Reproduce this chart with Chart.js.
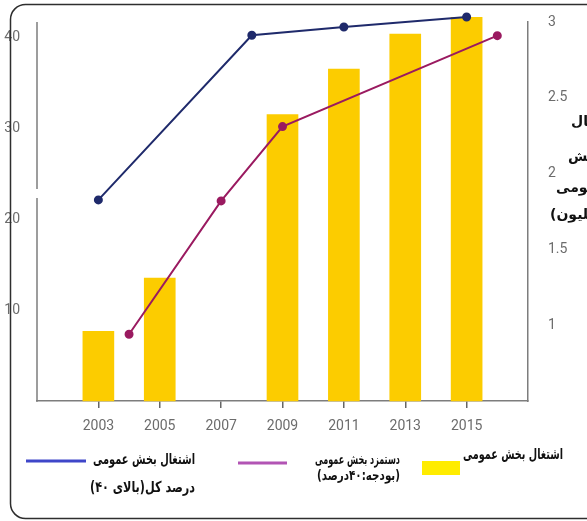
<!DOCTYPE html>
<html lang="fa">
<head>
<meta charset="UTF-8">
<title>اشتغال بخش عمومی</title>
<script src="https://cdn.jsdelivr.net/npm/chart.js@4.4.0/dist/chart.umd.min.js"></script>
<style>
 html, body { margin: 0; padding: 0; background: #fff; }
 .wrap { position: relative; width: 587px; height: 521px; }
</style>
</head>
<body>
<div class="wrap"><canvas id="chart" width="587" height="521"></canvas></div>
<script>
// bars: public sector employment (millions, right axis)
const barYears = [2003, 2005, 2009, 2011, 2013, 2015]
const barValues = [0.96, 1.31, 2.39, 2.69, 2.92, 3.03]
// blue line: share of total employment (percent, left axis)
const shareYears = [2003, 2008, 2011, 2015]
const shareValues = [22.1, 40.2, 41.1, 42.2]
// purple line: public sector wages (right axis)
const wageYears = [2004, 2007, 2009, 2016]
const wageValues = [0.94, 1.82, 2.31, 2.91]

const xTicks = [2003, 2005, 2007, 2009, 2011, 2013, 2015]
const leftTicks = [10, 20, 30, 40]
const rightTicks = [1, 1.5, 2, 2.5, 3]

const legendShare = ['اشتغال بخش عمومی', 'درصد کل(بالای ۴۰)']
const legendWage = ['دستمزد بخش عمومی', '(بودجه:۴۰درصد)']
const legendBars = ['اشتغال بخش عمومی']
const rightTitle = ['اشتغال', 'بخش', 'عمومی', '(میلیون)']

const tickFont = { family: 'Roboto', size: 14 }
const tickColor = '#6c6c6c'
const axisColor = '#7d7d7d'

const toPoints = (xs, ys) => xs.map((x, i) => ({ x: x, y: ys[i] }))

// frame, broken left axis, legend and right title
const decor = {
 id: 'decor',
 afterDraw(chart) {
  const ctx = chart.ctx
  const area = chart.chartArea
  ctx.save()

  // rounded frame
  ctx.strokeStyle = '#2e2e2e'
  ctx.lineWidth = 1.5
  ctx.beginPath()
  ctx.roundRect(10.5, 4.5, 620, 514, 15)
  ctx.stroke()

  // left axis with a break
  ctx.strokeStyle = axisColor
  ctx.lineWidth = 1.5
  ctx.beginPath()
  ctx.moveTo(area.left, area.top)
  ctx.lineTo(area.left, 189)
  ctx.moveTo(area.left, 198)
  ctx.lineTo(area.left, area.bottom + 0.75)
  ctx.stroke()

  // legend
  ctx.lineWidth = 3
  ctx.strokeStyle = '#3f46c9'
  ctx.beginPath(); ctx.moveTo(26, 461); ctx.lineTo(86, 461); ctx.stroke()
  ctx.strokeStyle = '#b254b4'
  ctx.beginPath(); ctx.moveTo(238, 463); ctx.lineTo(287, 463); ctx.stroke()
  ctx.fillStyle = '#ffec00'
  ctx.fillRect(422, 461, 38, 14)

  ctx.fillStyle = '#111'
  ctx.direction = 'rtl'
  ctx.textBaseline = 'middle'
  ctx.textAlign = 'right'
  ctx.font = 'bold 15px "DejaVu Sans"'
  ctx.fillText(legendShare[0], 195, 460, 102)
  ctx.fillText(legendShare[1], 195, 488, 105)
  ctx.font = 'bold 14px "DejaVu Sans"'
  ctx.fillText(legendWage[0], 400, 460, 85)
  ctx.fillText(legendWage[1], 400, 476, 83)
  ctx.font = 'bold 15px "DejaVu Sans"'
  ctx.fillText(legendBars[0], 563, 455, 100)

  // right axis title, cut by the page edge
  ctx.font = 'bold 14px "DejaVu Sans"'
  ctx.textAlign = 'left'
  const tx = [571, 568, 556, 550]
  const ty = [122, 157, 188, 215]
  rightTitle.forEach((t, i) => ctx.fillText(t, tx[i], ty[i]))
  ctx.restore()
 }
}

new Chart(document.getElementById('chart'), {
 type: 'bar',
 data: {
  datasets: [
   {
    type: 'line',
    label: legendShare.join(' '),
    data: toPoints(shareYears, shareValues),
    yAxisID: 'y',
    borderColor: '#1f2a6b',
    backgroundColor: '#1f2a6b',
    borderWidth: 2,
    pointRadius: 3.5,
    tension: 0,
    clip: false,
    order: 0
   },
   {
    type: 'line',
    label: legendWage.join(' '),
    data: toPoints(wageYears, wageValues),
    yAxisID: 'y1',
    borderColor: '#9a1a60',
    backgroundColor: '#9a1a60',
    borderWidth: 2,
    pointRadius: 3.5,
    tension: 0,
    clip: false,
    order: 1
   },
   {
    type: 'bar',
    label: legendBars[0],
    data: toPoints(barYears, barValues),
    yAxisID: 'y1',
    backgroundColor: '#fccc00',
    barThickness: 31,
    base: 0.5,
    clip: false,
    order: 2
   }
  ]
 },
 options: {
  responsive: false,
  animation: false,
  layout: { padding: { top: 22, bottom: 80, left: 0, right: 0 } },
  plugins: { legend: { display: false }, tooltip: { enabled: false } },
  scales: {
   x: {
    type: 'linear',
    min: 2001,
    max: 2017,
    offset: false,
    afterBuildTicks: s => { s.ticks = xTicks.map(v => ({ value: v })) },
    afterFit: s => { s.height = 40 },
    grid: { offset: false, drawOnChartArea: false, drawTicks: true, tickLength: 7, color: '#666', lineWidth: 1.5 },
    border: { color: axisColor, width: 1.5 },
    ticks: { font: tickFont, color: tickColor, padding: 10, maxRotation: 0, autoSkip: false, callback: v => String(v) }
   },
   y: {
    position: 'left',
    min: 0,
    max: 41.65,
    afterBuildTicks: s => { s.ticks = leftTicks.map(v => ({ value: v })) },
    afterFit: s => { s.width = 37 },
    grid: { display: false },
    border: { display: false },
    ticks: { font: tickFont, color: tickColor, padding: 9, callback: v => String(v) }
   },
   y1: {
    position: 'right',
    min: 0.5,
    max: 3,
    afterBuildTicks: s => { s.ticks = rightTicks.map(v => ({ value: v })) },
    afterFit: s => { s.width = 59 },
    grid: { display: false },
    border: { color: axisColor, width: 1.5 },
    ticks: { font: tickFont, color: tickColor, padding: 12, callback: v => String(v) }
   }
  }
 },
 plugins: [decor]
})
</script>
</body>
</html>
